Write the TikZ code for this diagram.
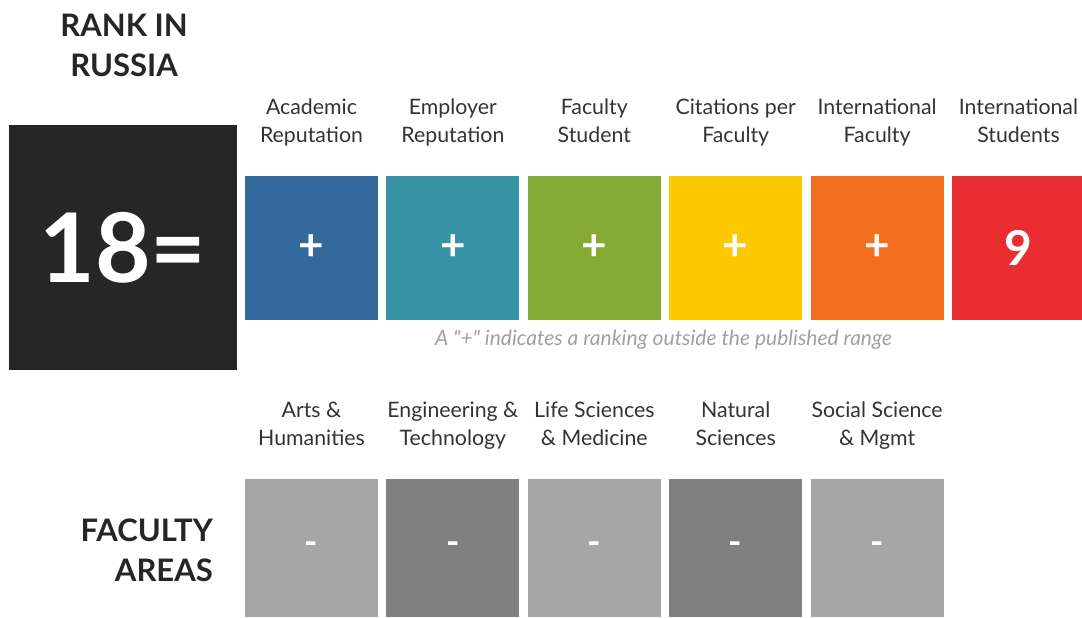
\documentclass[tikz,border=0pt]{standalone}
\usepackage{fontspec}
\setmainfont{Lato}
\usetikzlibrary{positioning}
\definecolor{rankblack}{HTML}{262626}
\definecolor{acadblue}{HTML}{34699D}
\definecolor{empteal}{HTML}{3892A6}
\definecolor{facgreen}{HTML}{85AA35}
\definecolor{cityellow}{HTML}{FDC800}
\definecolor{intorange}{HTML}{F36F1D}
\definecolor{stured}{HTML}{E92D30}
\definecolor{arealight}{HTML}{A6A6A6}
\definecolor{areadark}{HTML}{808080}
\definecolor{labeltext}{HTML}{333333}
\definecolor{notegrey}{HTML}{A0A0A0}
\tikzset{
  rankbox/.style={
    rectangle,
    minimum width=228pt,
    minimum height=245pt,
    inner sep=0pt,
    fill=rankblack,
    text=white,
    font=\bfseries\fontsize{96}{96}\selectfont
    },
  score/.style={
    rectangle,
    minimum width=133pt,
    minimum height=144pt,
    inner sep=0pt,
    text=white,
    font=\bfseries\fontsize{44}{44}\selectfont
    },
  area/.style={
    rectangle,
    minimum width=133pt,
    minimum height=138pt,
    inner sep=0pt,
    text=white,
    font=\bfseries\fontsize{36}{36}\selectfont
    },
  header/.style={
    align=center,
    inner sep=0pt,
    text=labeltext,
    font=\fontsize{21.3}{28}\selectfont,
    execute at end node=\strut
    },
  bigtitle/.style={
    inner sep=0pt,
    text=rankblack,
    font=\bfseries\fontsize{31}{40}\selectfont
    },
}

\begin{document}
\begin{tikzpicture}[
  x=1pt, y=-1pt,
  node distance=8pt
  ]
\useasboundingbox (0,0) rectangle (1082,618);
% overall rank
\node (ranktitle) [bigtitle, align=center] at (124,45.5) {RANK IN\\RUSSIA};
\node (rank) [rankbox] at (123,247.5) {18=};
% indicator scores
\node (acad) [score, fill=acadblue] at (311.5,248) {+};
\node (empl) [score, fill=empteal, right=of acad] {+};
\node (facstu) [score, fill=facgreen, right=of empl] {+};
\node (cit) [score, fill=cityellow, right=of facstu] {+};
\node (intfac) [score, fill=intorange, right=of cit] {+};
\node (intstu) [score, fill=stured, right=of intfac] {\fontsize{48}{48}\selectfont 9};
\node (acadlbl) [header, above=24.5pt of acad] {Academic\\Reputation};
\node (empllbl) [header, above=24.5pt of empl] {Employer\\Reputation};
\node (facstulbl) [header, above=24.5pt of facstu] {Faculty\\Student};
\node (citlbl) [header, above=24.5pt of cit] {Citations per\\Faculty};
\node (intfaclbl) [header, above=24.5pt of intfac] {International\\Faculty};
\node (intstulbl) [header, above=24.5pt of intstu] {International\\Students};
\node (note) [text=notegrey, font=\itshape\fontsize{21}{21}\selectfont] at (663.5,340) {A \textquotedbl+\textquotedbl{} indicates a ranking outside the published range};
% faculty areas
\node (areatitle) [bigtitle, align=right, anchor=east] at (213,550) {FACULTY\\AREAS};
\node (arts) [area, fill=arealight] at (311.5,548) {-};
\node (eng) [area, fill=areadark, right=of arts] {-};
\node (life) [area, fill=arealight, right=of eng] {-};
\node (nat) [area, fill=areadark, right=of life] {-};
\node (soc) [area, fill=arealight, right=of nat] {-};
\node (artslbl) [header, above=24.5pt of arts] {Arts \&\\Humanities};
\node (englbl) [header, above=24.5pt of eng] {Engineering \&\\Technology};
\node (lifelbl) [header, above=24.5pt of life] {Life Sciences\\\& Medicine};
\node (natlbl) [header, above=24.5pt of nat] {Natural\\Sciences};
\node (soclbl) [header, above=24.5pt of soc] {Social Science\\\& Mgmt};
\end{tikzpicture}
\end{document}
